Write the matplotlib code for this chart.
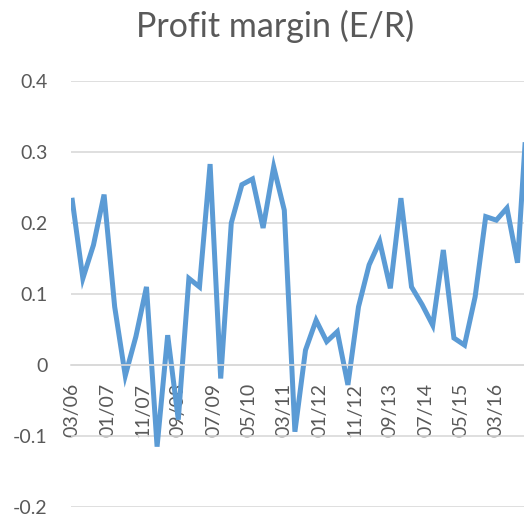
import matplotlib
matplotlib.use("Agg")
import matplotlib.pyplot as plt
import numpy as np

# quarterly profit margin, first quarter = 03/06
start_label = "03/06"
margin = [0.232, 0.122, 0.169, 0.240, 0.082, -0.015, 0.040, 0.110, -0.115, 0.042,
          -0.077, 0.122, 0.110, 0.283, -0.019, 0.200, 0.254, 0.262, 0.193, 0.279,
          0.218, -0.094, 0.021, 0.063, 0.033, 0.047, -0.028, 0.082, 0.141, 0.174,
          0.108, 0.235, 0.110, 0.085, 0.056, 0.162, 0.038, 0.028, 0.096, 0.209,
          0.204, 0.221, 0.144, 0.380]
tick_months = [0, 10, 20, 30, 40, 50, 60, 70, 80, 90, 100, 110, 120]
tick_labels = ["03/06", "01/07", "11/07", "09/08", "07/09", "05/10", "03/11",
               "01/12", "11/12", "09/13", "07/14", "05/15", "03/16"]

months = np.arange(len(margin)) * 3  # months since 03/06

grey = "#595959"
grid = "#D9D9D9"
plt.rcParams["font.family"] = ["Lato", "DejaVu Sans"]

W, H = 524, 519
fig = plt.figure(figsize=(W / 100, H / 100), dpi=100)
ax = fig.add_axes([70.5 / W, 12 / H, 459.4 / W, 426 / H])

ax.plot(months, margin, color="#5B9BD5", lw=3.6, solid_joinstyle="miter")

ax.set_xlim(-0.5, 129.5)
ax.set_ylim(-0.2, 0.4)
ax.set_yticks(np.arange(-0.2, 0.41, 0.1))
ax.set_yticklabels(["-0.2", "-0.1", "0", "0.1", "0.2", "0.3", "0.4"])
ax.yaxis.grid(True, color=grid, lw=1.2)
ax.set_axisbelow(True)

for s in ["top", "right", "left"]:
    ax.spines[s].set_visible(False)
ax.spines["bottom"].set_position(("data", 0))
ax.spines["bottom"].set_color(grid)
ax.spines["bottom"].set_linewidth(1.2)

ax.set_xticks(tick_months)
ax.set_xticklabels(tick_labels, rotation=90, va="top", ha="center")
ax.tick_params(axis="x", length=0, pad=13, labelsize=14, labelcolor=grey)
ax.tick_params(axis="y", length=0, pad=16.5, labelsize=14, labelcolor=grey)

fig.text(275 / W, 1 - 37 / H, "Profit margin (E/R)", ha="center", va="baseline",
         fontsize=24.5, color=grey)

fig.savefig("out.png", dpi=100)
